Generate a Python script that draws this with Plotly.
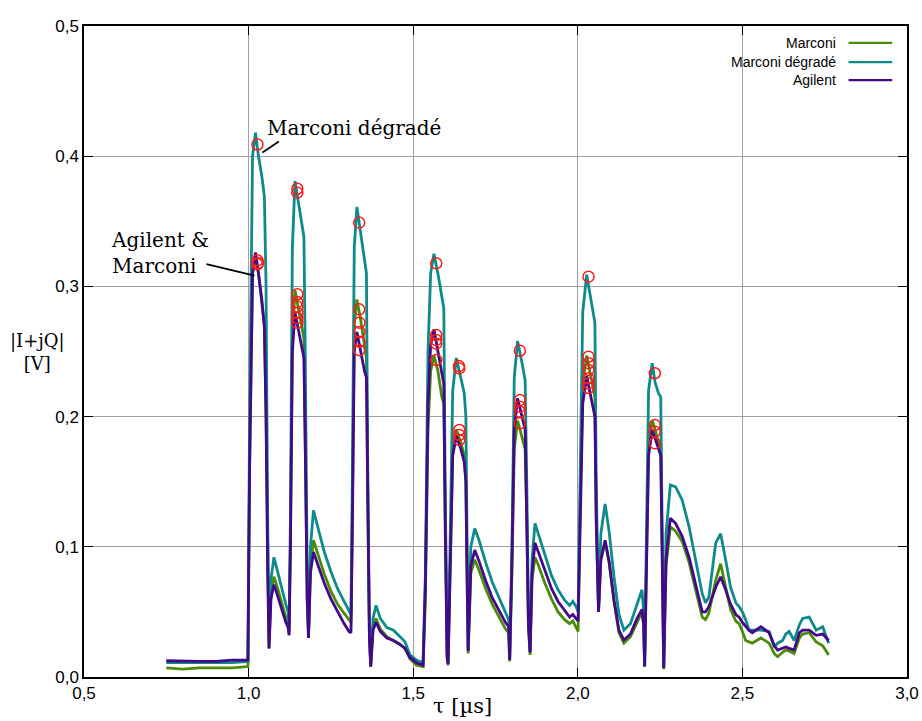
import plotly.graph_objects as go

# time axis [µs]
t = [0.750, 0.800, 0.850, 0.900, 0.950, 0.998,
     1.003, 1.012, 1.021, 1.030, 1.040, 1.048, 1.053, 1.058, 1.062,
     1.068, 1.077, 1.086, 1.100, 1.113, 1.120, 1.123,
     1.127, 1.133, 1.141, 1.150, 1.160, 1.168, 1.172, 1.178, 1.182,
     1.188, 1.197, 1.210, 1.230, 1.250, 1.270, 1.290, 1.305, 1.311,
     1.315, 1.321, 1.329, 1.340, 1.352, 1.358, 1.362, 1.367, 1.371,
     1.378, 1.387, 1.400, 1.420, 1.440, 1.460, 1.475, 1.490, 1.510, 1.530,
     1.537, 1.545, 1.553, 1.563, 1.575, 1.587, 1.593, 1.597, 1.603, 1.606,
     1.612, 1.620, 1.631, 1.645, 1.655, 1.660, 1.664, 1.667,
     1.675, 1.687, 1.700, 1.720, 1.740, 1.760, 1.780, 1.790, 1.793,
     1.800, 1.807, 1.817, 1.830, 1.840, 1.845, 1.850, 1.855,
     1.861, 1.870, 1.880, 1.900, 1.920, 1.940, 1.960, 1.975, 1.985, 1.995, 2.001,
     2.005, 2.015, 2.027, 2.040, 2.052, 2.056, 2.063,
     2.070, 2.083, 2.095, 2.110, 2.125, 2.140, 2.160, 2.180, 2.195, 2.200, 2.203,
     2.208, 2.215, 2.226, 2.235, 2.245, 2.252, 2.256, 2.261,
     2.268, 2.281, 2.297, 2.317, 2.338, 2.358, 2.378, 2.388, 2.398, 2.419, 2.434,
     2.449, 2.464, 2.480, 2.490, 2.500, 2.510, 2.520, 2.530, 2.556, 2.581, 2.597,
     2.607, 2.622, 2.632, 2.642, 2.657, 2.673, 2.683, 2.703, 2.724, 2.744, 2.762]

# Marconi dégradé
y_degrade = [0.011, 0.011, 0.011, 0.011, 0.011, 0.012,
             0.20, 0.40, 0.418, 0.40, 0.385, 0.369, 0.30, 0.12, 0.030,
             0.075, 0.092, 0.083, 0.068, 0.056, 0.050, 0.036,
             0.12, 0.33, 0.381, 0.366, 0.350, 0.338, 0.25, 0.08, 0.033,
             0.10, 0.128, 0.115, 0.096, 0.081, 0.068, 0.058, 0.051, 0.048,
             0.15, 0.33, 0.361, 0.342, 0.320, 0.310, 0.16, 0.04, 0.010,
             0.045, 0.055, 0.045, 0.038, 0.036, 0.031, 0.027, 0.017, 0.013, 0.011,
             0.08, 0.25, 0.31, 0.325, 0.310, 0.292, 0.283, 0.15, 0.02, 0.011,
             0.10, 0.22, 0.245, 0.230, 0.218, 0.20, 0.08, 0.021,
             0.10, 0.114, 0.105, 0.088, 0.073, 0.061, 0.050, 0.044, 0.013,
             0.10, 0.23, 0.258, 0.242, 0.228, 0.15, 0.05, 0.019,
             0.09, 0.118, 0.110, 0.093, 0.078, 0.067, 0.059, 0.055, 0.058, 0.054, 0.050,
             0.12, 0.28, 0.309, 0.290, 0.272, 0.15, 0.051,
             0.11, 0.133, 0.112, 0.077, 0.048, 0.036, 0.041, 0.055, 0.067, 0.05, 0.008,
             0.10, 0.22, 0.241, 0.226, 0.218, 0.215, 0.12, 0.007,
             0.11, 0.1475, 0.146, 0.136, 0.1154, 0.090, 0.064, 0.057, 0.061, 0.103, 0.110,
             0.090, 0.069, 0.057, 0.054, 0.050, 0.044, 0.036, 0.036, 0.036, 0.035, 0.023,
             0.026, 0.028, 0.033, 0.035, 0.028, 0.040, 0.045, 0.046, 0.036, 0.0386, 0.026]

# Marconi
y_marconi = [0.007, 0.006, 0.007, 0.007, 0.007, 0.008,
             0.16, 0.31, 0.322, 0.31, 0.29, 0.27, 0.20, 0.08, 0.022,
             0.065, 0.077, 0.070, 0.058, 0.046, 0.040, 0.034,
             0.10, 0.26, 0.297, 0.285, 0.27, 0.26, 0.18, 0.06, 0.03,
             0.085, 0.105, 0.095, 0.079, 0.066, 0.056, 0.049, 0.044, 0.042,
             0.12, 0.27, 0.29, 0.275, 0.255, 0.245, 0.13, 0.03, 0.008,
             0.038, 0.045, 0.037, 0.031, 0.028, 0.025, 0.022, 0.014, 0.009, 0.008,
             0.06, 0.19, 0.235, 0.247, 0.235, 0.215, 0.21, 0.12, 0.015, 0.009,
             0.08, 0.175, 0.19, 0.18, 0.17, 0.15, 0.07, 0.018,
             0.08, 0.090, 0.082, 0.068, 0.056, 0.046, 0.037, 0.034, 0.012,
             0.08, 0.175, 0.197, 0.185, 0.175, 0.12, 0.04, 0.017,
             0.075, 0.092, 0.086, 0.072, 0.060, 0.050, 0.044, 0.041, 0.043, 0.038, 0.035,
             0.10, 0.225, 0.247, 0.23, 0.215, 0.12, 0.05,
             0.09, 0.104, 0.088, 0.058, 0.034, 0.026, 0.031, 0.042, 0.050, 0.04, 0.008,
             0.08, 0.18, 0.197, 0.19, 0.18, 0.175, 0.10, 0.006,
             0.085, 0.1154, 0.112, 0.104, 0.088, 0.068, 0.046, 0.044, 0.049, 0.0745, 0.087,
             0.069, 0.052, 0.043, 0.041, 0.035, 0.028, 0.027, 0.026, 0.030, 0.026, 0.018,
             0.0156, 0.019, 0.0207, 0.020, 0.018, 0.030, 0.033, 0.034, 0.027, 0.024, 0.017]

# Agilent
y_agilent = [0.0125, 0.012, 0.012, 0.012, 0.013, 0.013,
             0.16, 0.31, 0.326, 0.31, 0.29, 0.268, 0.20, 0.08, 0.022,
             0.060, 0.071, 0.064, 0.052, 0.042, 0.038, 0.032,
             0.10, 0.25, 0.280, 0.268, 0.255, 0.245, 0.18, 0.06, 0.03,
             0.08, 0.096, 0.087, 0.072, 0.060, 0.050, 0.041, 0.035, 0.034,
             0.11, 0.25, 0.265, 0.25, 0.235, 0.23, 0.13, 0.03, 0.008,
             0.036, 0.042, 0.035, 0.030, 0.028, 0.025, 0.022, 0.015, 0.011, 0.009,
             0.07, 0.21, 0.255, 0.267, 0.25, 0.235, 0.225, 0.12, 0.015, 0.010,
             0.08, 0.17, 0.185, 0.175, 0.165, 0.15, 0.07, 0.02,
             0.085, 0.0975, 0.089, 0.074, 0.061, 0.051, 0.042, 0.0386, 0.013,
             0.09, 0.19, 0.214, 0.20, 0.19, 0.12, 0.04, 0.019,
             0.08, 0.103, 0.096, 0.081, 0.068, 0.058, 0.051, 0.046, 0.048, 0.045, 0.043,
             0.09, 0.21, 0.231, 0.215, 0.20, 0.12, 0.05,
             0.09, 0.105, 0.089, 0.059, 0.036, 0.0284, 0.033, 0.045, 0.052, 0.04, 0.008,
             0.08, 0.17, 0.19, 0.183, 0.175, 0.17, 0.10, 0.007,
             0.09, 0.122, 0.118, 0.108, 0.092, 0.071, 0.050, 0.050, 0.054, 0.069, 0.077,
             0.067, 0.056, 0.048, 0.046, 0.042, 0.0386, 0.036, 0.034, 0.0386, 0.034, 0.024,
             0.0207, 0.022, 0.023, 0.022, 0.0207, 0.034, 0.036, 0.036, 0.032, 0.033, 0.028]

# detected peaks (red circles)
peak_t = [1.027, 1.027, 1.027, 1.029,
          1.148, 1.148, 1.148, 1.148, 1.148, 1.148, 1.148, 1.148,
          1.336, 1.336, 1.337, 1.337, 1.337, 1.336,
          1.570, 1.570, 1.570, 1.570, 1.570,
          1.639, 1.640, 1.640, 1.640, 1.640,
          1.824, 1.824, 1.824, 1.824, 1.824,
          2.0325, 2.0325, 2.0325, 2.0325, 2.0325, 2.0325, 2.0325,
          2.234, 2.234, 2.234, 2.234]
peak_v = [0.409, 0.320, 0.317, 0.318,
          0.375, 0.372, 0.294, 0.288, 0.2845, 0.2796, 0.2757, 0.272,
          0.349, 0.2824, 0.272, 0.265, 0.2575, 0.251,
          0.3177, 0.2627, 0.2588, 0.256, 0.2435,
          0.2388, 0.237, 0.1897, 0.1859, 0.182,
          0.2506, 0.2127, 0.2076, 0.2037, 0.1948,
          0.3075, 0.246, 0.241, 0.2358, 0.2294, 0.2255, 0.222,
          0.2333, 0.1935, 0.1884, 0.1795]

x_ticks = [0.5, 1.0, 1.5, 2.0, 2.5, 3.0]
y_ticks = [0.0, 0.1, 0.2, 0.3, 0.4, 0.5]

series_names = ["Marconi", "Marconi dégradé", "Agilent"]
series_colors = ["#4a8c08", "#0e8a8a", "#44088a"]
series_values = [y_marconi, y_degrade, y_agilent]

fig = go.Figure()
for name, col, vals in zip(series_names, series_colors, series_values):
    fig.add_trace(go.Scatter(x=t, y=vals, mode="lines", name=name,
                             line=dict(color=col, width=2.8), showlegend=False))

fig.add_trace(go.Scatter(x=peak_t, y=peak_v, mode="markers", name="pics",
                         marker=dict(symbol="circle-open", size=11, color="#ff1a1a",
                                     line=dict(width=1.5, color="#ff1a1a")),
                         showlegend=False))

serif = "DejaVu Serif"
sans = "Liberation Sans"

# manual gnuplot-style legend (text then line sample)
leg_y = [0.974, 0.9445, 0.917]
for name, col, yy in zip(series_names, series_colors, leg_y):
    fig.add_annotation(xref="paper", yref="paper", x=0.916, y=yy, text=name,
                       showarrow=False, xanchor="right", yanchor="middle",
                       font=dict(family=sans, size=14, color="black"))
    fig.add_shape(type="line", xref="paper", yref="paper", x0=0.929, x1=0.982,
                  y0=yy, y1=yy, line=dict(color=col, width=2.2))

# callouts
fig.add_annotation(x=1.050, y=0.4215, text="Marconi dégradé", showarrow=False,
                   xanchor="left", yanchor="middle",
                   font=dict(family=serif, size=20, color="black"))
fig.add_shape(type="line", x0=1.092, y0=0.4112, x1=1.042, y1=0.4028,
              line=dict(color="black", width=1.8))
fig.add_annotation(x=0.575, y=0.3255, text="Agilent &<br>Marconi", showarrow=False,
                   xanchor="left", yanchor="middle", align="left",
                   font=dict(family=serif, size=20, color="black"))
fig.add_shape(type="line", x0=0.872, y0=0.3172, x1=1.018, y1=0.3082,
              line=dict(color="black", width=1.8))

# axis titles
fig.add_annotation(xref="paper", yref="paper", x=-0.056, y=0.499,
                   text="|I+jQ|<br>[V]", showarrow=False, xanchor="center",
                   yanchor="middle", align="center",
                   font=dict(family=serif, size=18, color="black"))
fig.add_annotation(xref="paper", yref="paper", x=0.4605, y=-0.0445,
                   text="τ [µs]", showarrow=False, xanchor="center",
                   yanchor="middle", font=dict(family=serif, size=21, color="black"))

fig.update_layout(
    autosize=False,
    width=922, height=721,
    margin=dict(l=84, r=15, t=26, b=44),
    paper_bgcolor="white", plot_bgcolor="white",
    separators=", ",
    showlegend=False,
    xaxis=dict(range=[0.5, 3.0], tickvals=x_ticks, tickformat=".1f",
               automargin=False,
               showgrid=True, gridcolor="#a0a0a0", gridwidth=1,
               showline=True, linecolor="black", linewidth=1.5, mirror="ticks",
               ticks="inside", ticklen=9, tickcolor="black",
               tickfont=dict(family=sans, size=17, color="black"),
               zeroline=False),
    yaxis=dict(range=[0.0, 0.5], tickvals=y_ticks, tickformat=".1f",
               automargin=False,
               showgrid=True, gridcolor="#a0a0a0", gridwidth=1,
               showline=True, linecolor="black", linewidth=1.5, mirror="ticks",
               ticks="inside", ticklen=9, tickcolor="black",
               tickfont=dict(family=sans, size=17, color="black"),
               zeroline=False),
)

page_fix = (
    "document.documentElement.style.margin='0px';"
    "document.body.style.margin='0px';"
    "document.body.style.overflow='hidden';"
    "var gd=document.getElementById('{plot_id}');"
    "Plotly.relayout(gd,{autosize:false,width:922,height:721});"
)

fig.write_html("out.html", config={"responsive": False, "displayModeBar": False},
               post_script=page_fix)
